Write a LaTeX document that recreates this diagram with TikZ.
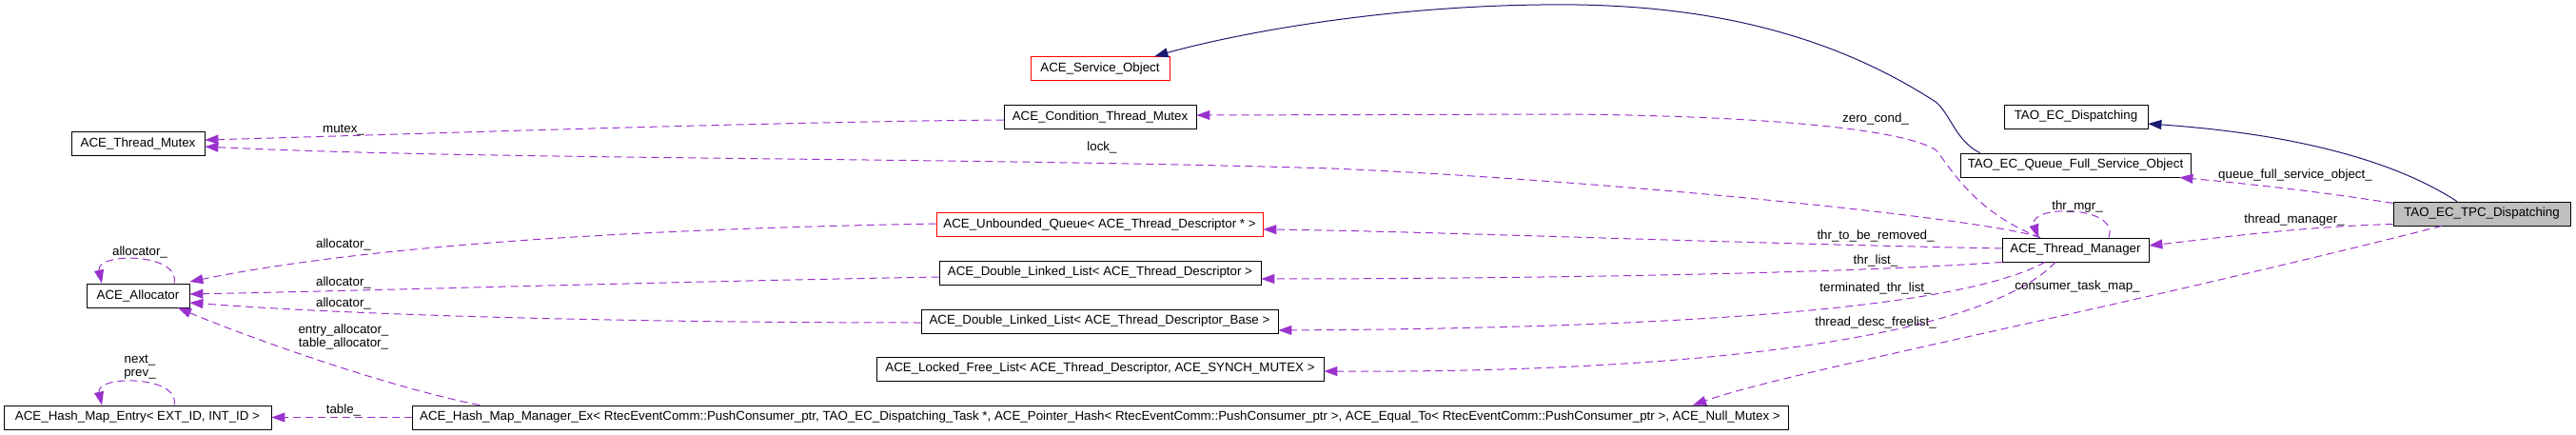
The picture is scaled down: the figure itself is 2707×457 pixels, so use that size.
\documentclass[tikz,border=0pt]{standalone}
\usepackage{fontspec}
\setmainfont{Liberation Sans}
\usetikzlibrary{arrows.meta}
\definecolor{inhblue}{HTML}{191970}
\definecolor{usepurple}{HTML}{9A32CD}
\definecolor{maingray}{HTML}{BFBFBF}
\tikzset{
  cls/.style={draw=black, line width=0.8pt, fill=white, minimum height=25pt,
    inner xsep=2pt, inner ysep=0pt, font=\fontsize{13.33}{14}\selectfont},
  clsred/.style={cls, draw=red},
  clsmain/.style={cls, fill=maingray},
  inherit/.style={draw=inhblue, line width=1pt, -{Triangle[length=14pt,width=10pt]}},
  uses/.style={draw=usepurple, line width=1pt, dash pattern=on 8pt off 5pt,
    -{Triangle[length=14pt,width=10pt]}},
  lbl/.style={inner sep=0pt, align=center, font=\fontsize{13.33}{14}\selectfont},
}
\begin{document}
\begin{tikzpicture}[x=1pt, y=-1pt]
   \useasboundingbox (0,0) rectangle (2707,457);
   % left column
   \node[cls, minimum width=140] (tmutex) at (145,150.5) {ACE\_Thread\_Mutex};
   \node[cls, minimum width=108] (alloc) at (145,310.5) {ACE\_Allocator};
   \node[cls, minimum width=281] (hmentry) at (144.5,438.5) {ACE\_Hash\_Map\_Entry< EXT\_ID, INT\_ID >};
   % middle column
   \node[clsred, minimum width=146] (svcobj) at (1156,72) {ACE\_Service\_Object};
   \node[cls, minimum width=202] (condmutex) at (1156,122.5) {ACE\_Condition\_Thread\_Mutex};
   \node[clsred, minimum width=343] (uq) at (1155.5,236) {ACE\_Unbounded\_Queue< ACE\_Thread\_Descriptor * >};
   \node[cls, minimum width=338] (dll) at (1156,286.5) {ACE\_Double\_Linked\_List< ACE\_Thread\_Descriptor >};
   \node[cls, minimum width=375] (dllbase) at (1155.5,337.5) {ACE\_Double\_Linked\_List< ACE\_Thread\_Descriptor\_Base >};
   \node[cls, minimum width=470] (freelist) at (1156,387.5) {ACE\_Locked\_Free\_List< ACE\_Thread\_Descriptor, ACE\_SYNCH\_MUTEX >};
   \node[cls, minimum width=1446] (hmm) at (1156,438.5) {ACE\_Hash\_Map\_Manager\_Ex< RtecEventComm::PushConsumer\_ptr, TAO\_EC\_Dispatching\_Task *, ACE\_Pointer\_Hash< RtecEventComm::PushConsumer\_ptr >, ACE\_Equal\_To< RtecEventComm::PushConsumer\_ptr >, ACE\_Null\_Mutex >};
   % right column
   \node[cls, minimum width=151] (ecdisp) at (2181.5,122.5) {TAO\_EC\_Dispatching};
   \node[cls, minimum width=242] (qfull) at (2181,173.5) {TAO\_EC\_Queue\_Full\_Service\_Object};
   \node[cls, minimum width=154] (thrmgr) at (2181,262.5) {ACE\_Thread\_Manager};
   \node[clsmain, minimum width=186] (tpc) at (2608,224.5) {TAO\_EC\_TPC\_Dispatching};

   % inheritance
   \draw[inherit] ([xshift=21pt]qfull.north west) .. controls (2055,148) and (2050,120) .. (2034,107)
      .. controls (1900,20) and (1750,3) .. (1619,5)
      .. controls (1450,7) and (1300,35) .. ([xshift=-16pt]svcobj.north east);
   \draw[inherit] ([xshift=-26pt]tpc.north) .. controls (2510,165) and (2400,140) .. ([yshift=-7.5pt]ecdisp.east);

   % members
   \draw[uses] ([yshift=-3.5pt]condmutex.west) .. controls (800,128) and (400,142) .. ([yshift=3.5pt]tmutex.east);
   \draw[uses] ([xshift=-37pt]thrmgr.north) .. controls (2090,230) and (1700,190) .. (1400,177)
      .. controls (1000,165) and (500,168) .. ([yshift=-3.5pt]tmutex.east);
   \draw[uses] ([xshift=-37pt]thrmgr.north) .. controls (2080,225) and (2055,185) .. (2035,158)
      .. controls (2000,135) and (1850,122) .. (1650,120) -- ([yshift=1.5pt]condmutex.east);
   \draw[uses] ([xshift=35pt]thrmgr.north) .. controls (2228,215) and (2130,215) .. ([xshift=-39pt]thrmgr.north);
   \draw[uses] ([yshift=1.5pt]thrmgr.west) .. controls (1800,255) and (1500,243) .. ([yshift=-5pt]uq.east);
   \draw[uses] (thrmgr.south west) .. controls (1900,290) and (1500,293) .. ([yshift=-6.5pt]dll.east);
   \draw[uses] ([xshift=-32pt]thrmgr.south) .. controls (2050,330) and (1700,345) .. ([yshift=-9.5pt]dllbase.east);
   \draw[uses] ([xshift=-21pt]thrmgr.south) .. controls (2080,360) and (1750,392) .. ([yshift=-2.5pt]freelist.east);
   \draw[uses] ([yshift=11pt]tpc.west) .. controls (2430,200) and (2350,192) .. ([xshift=-12pt]qfull.south east);
   \draw[uses] ([yshift=-11pt]tpc.west) .. controls (2420,238) and (2330,250) .. ([yshift=4.5pt]thrmgr.east);
   \draw[uses] ([xshift=-42pt]tpc.south) .. controls (2200,330) and (1880,390) .. ([xshift=623pt]hmm.north);
   \draw[uses] ([xshift=38pt]alloc.north) .. controls (190,265) and (100,265) .. ([xshift=-38pt]alloc.north);
   \draw[uses] ([yshift=1pt]uq.west) .. controls (700,240) and (400,255) .. ([yshift=14.5pt]alloc.east);
   \draw[uses] ([yshift=-4.5pt]dll.west) .. controls (700,296) and (400,305) .. ([yshift=1.5pt]alloc.east);
   \draw[uses] ([yshift=-1.5pt]dllbase.west) .. controls (700,339) and (400,333) .. ([yshift=-7.5pt]alloc.east);
   \draw[uses] ([xshift=-652pt]hmm.north) .. controls (400,405) and (250,350) .. ([xshift=42pt]alloc.south);
   \draw[uses] (hmm.west) -- (hmentry.east);
   \draw[uses] ([xshift=38.5pt]hmentry.north) .. controls (190,394) and (100,394) .. ([xshift=-37.5pt]hmentry.north);

   % member labels
   \node[lbl] (l-mutex) at (361,137) {mutex\_};
   \node[lbl] (l-lock) at (1158,155) {lock\_};
   \node[lbl] (l-zero) at (1971,125) {zero\_cond\_};
   \node[lbl] (l-thrmgr) at (2183,217) {thr\_mgr\_};
   \node[lbl] (l-qfull) at (2412,184) {queue\_full\_service\_object\_};
   \node[lbl] (l-tmgr) at (2411,231) {thread\_manager\_};
   \node[lbl] (l-remove) at (1971,248) {thr\_to\_be\_removed\_};
   \node[lbl] (l-list) at (1971,274) {thr\_list\_};
   \node[lbl] (l-term) at (1971,303) {terminated\_thr\_list\_};
   \node[lbl] (l-free) at (1971,339) {thread\_desc\_freelist\_};
   \node[lbl] (l-ctm) at (2183,301) {consumer\_task\_map\_};
   \node[lbl] (l-aself) at (147,265) {allocator\_};
   \node[lbl] (l-auq) at (361,257) {allocator\_};
   \node[lbl] (l-adll) at (361,297) {allocator\_};
   \node[lbl] (l-abase) at (361,319) {allocator\_};
   \node[lbl] (l-ahmm) at (361,354) {entry\_allocator\_\\table\_allocator\_};
   \node[lbl] (l-next) at (147,386) {next\_\\prev\_};
   \node[lbl] (l-table) at (361,431) {table\_};
\end{tikzpicture}
\end{document}
